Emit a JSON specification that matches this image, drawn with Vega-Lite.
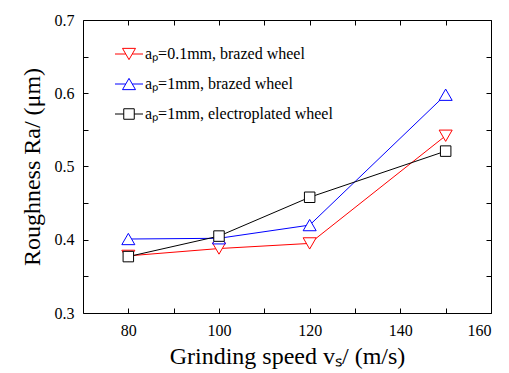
{
  "$schema": "https://vega.github.io/schema/vega-lite/v6.json",
  "width": 408,
  "height": 293,
  "autosize": "none",
  "padding": {"left": 83, "top": 20, "right": 18, "bottom": 60},
  "background": "white",
  "config": {
    "view": {"stroke": "black", "strokeWidth": 1},
    "font": "Liberation Serif",
    "axis": {
      "grid": false,
      "domain": false,
      "zindex": 1,
      "ticks": true,
      "tickColor": "black",
      "tickWidth": 1,
      "tickOpacity": 1,
      "tickSize": -5,
      "labelColor": "black",
      "titleColor": "black",
      "labelFont": "Liberation Serif",
      "titleFont": "Liberation Serif",
      "labelFontSize": 16,
      "titleFontSize": 24,
      "titleFontWeight": "normal"
    },
    "legend": {
      "labelFont": "Liberation Serif",
      "labelFontSize": 16,
      "labelColor": "black",
      "labelLimit": 0,
      "symbolSize": 100,
      "symbolStrokeWidth": 1,
      "symbolFillColor": "white",
      "labelOffset": 8,
      "rowPadding": 14,
      "padding": 0
    }
  },
  "data": {
    "values": [
      {"series": "aₚ=0.1mm, brazed wheel", "speed": 80, "Ra": 0.378},
      {"series": "aₚ=0.1mm, brazed wheel", "speed": 100, "Ra": 0.388},
      {"series": "aₚ=0.1mm, brazed wheel", "speed": 120, "Ra": 0.395},
      {"series": "aₚ=0.1mm, brazed wheel", "speed": 150, "Ra": 0.542},
      {"series": "aₚ=1mm, brazed wheel", "speed": 80, "Ra": 0.401},
      {"series": "aₚ=1mm, brazed wheel", "speed": 100, "Ra": 0.402},
      {"series": "aₚ=1mm, brazed wheel", "speed": 120, "Ra": 0.420},
      {"series": "aₚ=1mm, brazed wheel", "speed": 150, "Ra": 0.598},
      {"series": "aₚ=1mm, electroplated wheel", "speed": 80, "Ra": 0.377},
      {"series": "aₚ=1mm, electroplated wheel", "speed": 100, "Ra": 0.405},
      {"series": "aₚ=1mm, electroplated wheel", "speed": 120, "Ra": 0.458},
      {"series": "aₚ=1mm, electroplated wheel", "speed": 150, "Ra": 0.521}
    ]
  },
  "layer": [
    {
      "mark": {"type": "line", "strokeWidth": 1},
      "encoding": {
        "x": {
          "field": "speed", "type": "quantitative",
          "scale": {"domain": [70, 160], "nice": false, "zero": false},
          "axis": {
            "orient": "bottom",
            "values": [80, 90, 100, 110, 120, 130, 140, 150, 160],
            "labelExpr": "datum.value % 20 === 0 ? format(datum.value, 'd') : ''",
            "tickSize": -5,
            "labelPadding": 14,
            "title": "Grinding speed vₛ/ (m/s)",
            "titlePadding": 6
          }
        },
        "y": {
          "field": "Ra", "type": "quantitative",
          "scale": {"domain": [0.3, 0.7], "nice": false, "zero": false},
          "axis": {
            "orient": "left",
            "values": [0.3, 0.35, 0.4, 0.45, 0.5, 0.55, 0.6, 0.65, 0.7],
            "labelExpr": "round(datum.value * 100) % 10 === 0 ? format(datum.value, '.1f') : ''",
            "tickSize": -5,
            "labelPadding": 14,
            "title": "Roughness Ra/ (μm)",
            "titlePadding": 10
          }
        },
        "color": {
          "field": "series", "type": "nominal",
          "scale": {
            "domain": ["aₚ=0.1mm, brazed wheel", "aₚ=1mm, brazed wheel", "aₚ=1mm, electroplated wheel"],
            "range": ["#ff0000", "#0000ff", "#000000"]
          },
          "legend": {
            "title": null,
            "orient": "none",
            "legendX": 38,
            "legendY": 26,
            "symbolType": "M-2.8,0H2.8",
            "encode": {
              "symbols": {
                "update": {
                  "shape": {"signal": "datum.value === 'aₚ=0.1mm, brazed wheel' ? 'M-2.8,0H-0.65M0.65,0H2.8M-1.3,-1.126L1.3,-1.126L0,1.126Z' : (datum.value === 'aₚ=1mm, electroplated wheel' ? 'M-2.8,0H-1.05M1.05,0H2.8M-1.05,-1.05H1.05V1.05H-1.05Z' : 'M-2.8,0H-0.65M0.65,0H2.8M0,-1.126L1.3,1.126L-1.3,1.126Z')"},
                  "fill": {"value": "white"},
                  "fillOpacity": {"value": 1},
                  "strokeWidth": {"value": 1},
                  "size": {"value": 100}
                }
              }
            }
          }
        }
      }
    },
    {
      "encoding": {
        "x": {
          "field": "speed", "type": "quantitative",
          "scale": {"domain": [70, 160], "nice": false, "zero": false},
          "axis": {
            "orient": "top",
            "values": [80, 90, 100, 110, 120, 130, 140, 150, 160],
            "labels": false,
            "tickSize": -5,
            "title": null
          }
        },
        "y": {
          "field": "Ra", "type": "quantitative",
          "scale": {"domain": [0.3, 0.7], "nice": false, "zero": false},
          "axis": {
            "orient": "right",
            "values": [0.3, 0.35, 0.4, 0.45, 0.5, 0.55, 0.6, 0.65, 0.7],
            "labels": false,
            "tickSize": -5,
            "title": null
          }
        },
        "color": {
          "field": "series", "type": "nominal",
          "scale": {
            "domain": ["aₚ=0.1mm, brazed wheel", "aₚ=1mm, brazed wheel", "aₚ=1mm, electroplated wheel"],
            "range": ["#ff0000", "#0000ff", "#000000"]
          }
        }
      },
      "layer": [
        {
          "transform": [{"filter": "datum.series === 'aₚ=0.1mm, brazed wheel'"}],
          "mark": {"type": "point", "shape": "triangle-down", "size": 170, "filled": false, "fill": "white", "fillOpacity": 1, "strokeWidth": 1, "opacity": 1}
        },
        {
          "transform": [{"filter": "datum.series === 'aₚ=1mm, brazed wheel'"}],
          "mark": {"type": "point", "shape": "triangle-up", "size": 170, "filled": false, "fill": "white", "fillOpacity": 1, "strokeWidth": 1, "opacity": 1}
        },
        {
          "transform": [{"filter": "datum.series === 'aₚ=1mm, electroplated wheel'"}],
          "mark": {"type": "point", "shape": "square", "size": 110, "filled": false, "fill": "white", "fillOpacity": 1, "strokeWidth": 1, "opacity": 1}
        }
      ]
    }
  ],
  "resolve": {"axis": {"x": "independent", "y": "independent"}}
}
